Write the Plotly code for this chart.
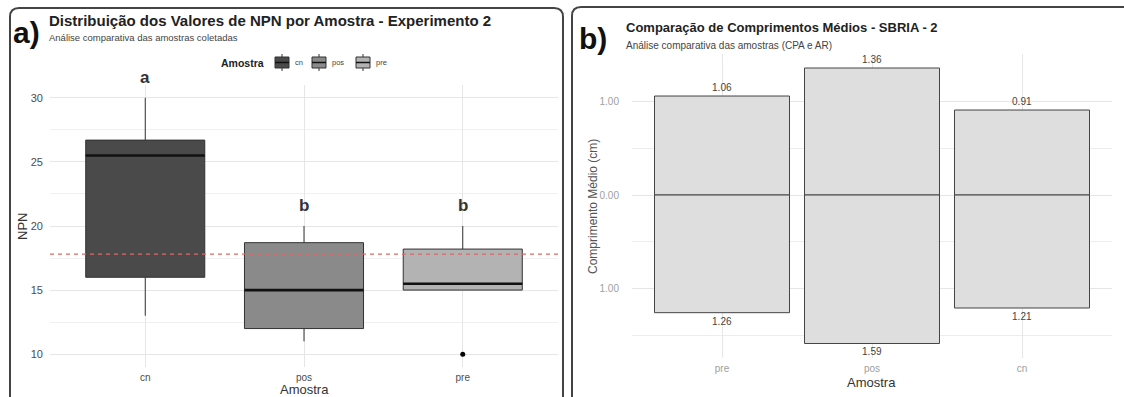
import plotly.graph_objects as go

W, H = 1124, 397

# ---------------- data ----------------
# Panel a: NPN boxplots by sample
amostras_a = ["cn", "pos", "pre"]
q1 = [16.0, 12.0, 15.0]
median = [25.5, 15.0, 15.5]
q3 = [26.7, 18.7, 18.2]
lower_whisker = [13.0, 11.0, 15.0]
upper_whisker = [30.0, 20.0, 20.0]
outlier_x = ["pre"]
outlier_y = [10.0]
letters = ["a", "b", "b"]
mean_npn = 17.8
box_fills = ["#4a4a4a", "#8a8a8a", "#b3b3b3"]

# Panel b: mean lengths (upper/lower values)
amostras_b = ["pre", "pos", "cn"]
valores_cima = [1.06, 1.36, 0.91]
valores_baixo = [1.26, 1.59, 1.21]
yticks_b = [-1.0, 0.0, 1.0]
yticklabels_b = ["1.00", "0.00", "1.00"]

FONT = "Liberation Sans, Arial, sans-serif"


def px(x):
    return x / W


def py(y):
    return 1 - y / H


fig = go.Figure()

# axis geometry (pixels)
XA_DOM = [px(50), px(558)]
YA_DOM = [py(367), py(85)]
XA_RANGE = [0.4, 3.6]
YA_RANGE = [9, 31]

# ---------------- panel a ----------------
pos_a = {c: i + 1 for i, c in enumerate(amostras_a)}
BW = 0.75
for i, c in enumerate(amostras_a):
    xp = pos_a[c]
    fig.add_trace(go.Box(
        x=[xp], q1=[q1[i]], median=[median[i]], q3=[q3[i]],
        lowerfence=[lower_whisker[i]], upperfence=[upper_whisker[i]],
        width=BW, fillcolor=box_fills[i], line=dict(color="#333333", width=1),
        whiskerwidth=0, boxpoints=False, showlegend=False, hoverinfo="skip",
        xaxis="x", yaxis="y"))
    fig.add_trace(go.Scatter(
        x=[xp - BW / 2, xp + BW / 2], y=[median[i], median[i]], mode="lines",
        line=dict(color="#111111", width=2.6), showlegend=False,
        hoverinfo="skip", xaxis="x", yaxis="y"))

fig.add_trace(go.Scatter(
    x=[pos_a[c] for c in outlier_x], y=outlier_y, mode="markers",
    marker=dict(color="black", size=5), showlegend=False, xaxis="x", yaxis="y"))

fig.add_shape(type="line", xref="x domain", yref="y", x0=0, x1=1,
              y0=mean_npn, y1=mean_npn,
              line=dict(color="#e06666", width=1.2, dash="4px,4px"))


def data_to_paper(v, rng, dom):
    return dom[0] + (v - rng[0]) / (rng[1] - rng[0]) * (dom[1] - dom[0])


# significance letters (above upper whiskers, may sit above the panel)
for i, c in enumerate(amostras_a):
    fig.add_annotation(
        x=data_to_paper(pos_a[c], XA_RANGE, XA_DOM),
        y=data_to_paper(upper_whisker[i] + 1.6, YA_RANGE, YA_DOM),
        xref="paper", yref="paper", text=f"<b>{letters[i]}</b>", showarrow=False,
        xanchor="center", yanchor="middle",
        font=dict(family=FONT, size=17, color="#333333"))

# ---------------- panel b ----------------
pos_b = {c: i + 1 for i, c in enumerate(amostras_b)}
xb = [pos_b[c] for c in amostras_b]
bar_style = dict(width=0.9, marker=dict(color="#dedede", line=dict(color="#444444", width=1)),
                 textposition="outside", cliponaxis=False, constraintext="none",
                 textfont=dict(family=FONT, size=10, color="#444444"),
                 showlegend=False, hoverinfo="skip", xaxis="x2", yaxis="y2")
fig.add_trace(go.Bar(x=xb, y=valores_cima, text=[f"{v:.2f}" for v in valores_cima], **bar_style))
fig.add_trace(go.Bar(x=xb, y=[-v for v in valores_baixo],
                     text=[f"{v:.2f}" for v in valores_baixo], **bar_style))

# ---------------- layout ----------------
grid = "#e6e6e6"
fig.update_layout(
    width=W, height=H, margin=dict(l=0, r=0, t=0, b=0),
    paper_bgcolor="white", plot_bgcolor="white", barmode="relative",
    font=dict(family=FONT), showlegend=False,
    xaxis=dict(domain=XA_DOM, range=XA_RANGE, tickvals=[1, 2, 3],
               ticktext=amostras_a, showgrid=True, gridcolor=grid, zeroline=False,
               tickfont=dict(size=10, color="#4d4d4d"), ticks="", ticklabelstandoff=3,
               anchor="y"),
    yaxis=dict(domain=YA_DOM, range=YA_RANGE, tickvals=[10, 15, 20, 25, 30],
               showgrid=True, gridcolor=grid, zeroline=False,
               minor=dict(tickvals=[12.5, 17.5, 22.5, 27.5], showgrid=True, gridcolor="#f0f0f0"),
               tickfont=dict(size=11, color="#4d4d4d"), ticks="", ticklabelstandoff=6,
               anchor="x"),
    xaxis2=dict(domain=[px(632), px(1112)], range=[0.4, 3.6], tickvals=[1, 2, 3],
                ticktext=amostras_b, showgrid=True, gridcolor=grid, zeroline=False,
                tickfont=dict(size=10, color="#a0a0a0"), ticks="", ticklabelstandoff=3,
                anchor="y2"),
    yaxis2=dict(domain=[py(357.5), py(54)], range=[-1.74, 1.51], tickvals=yticks_b,
                ticktext=yticklabels_b, showgrid=True, gridcolor=grid, zeroline=False,
                minor=dict(tickvals=[-1.5, -0.5, 0.5, 1.5], showgrid=True, gridcolor="#ededed"),
                tickfont=dict(size=10, color="#a0a0a0"), ticks="", ticklabelstandoff=12,
                anchor="x2"),
)


def ann(x, y, text, size, color="#222222", xanchor="left", yanchor="middle", angle=0):
    fig.add_annotation(x=px(x), y=py(y), xref="paper", yref="paper", text=text,
                       showarrow=False, xanchor=xanchor, yanchor=yanchor, textangle=angle,
                       font=dict(family=FONT, size=size, color=color))


# titles panel a
ann(11, 33, "<b>a)</b>", 30, "#111111")
ann(47, 20, "<b>Distribuição dos Valores de NPN por Amostra - Experimento 2</b>", 15, "#222222")
ann(47, 37, "Análise comparativa das amostras coletadas", 9.5, "#444444")
ann(22, 227, "NPN", 13, "#333333", xanchor="center", angle=-90)
ann(304, 389, "Amostra", 13, "#333333", xanchor="center")

# manual legend panel a
ann(242, 63, "<b>Amostra</b>", 10.5, "#222222", xanchor="center")
key_x = [282, 319, 363]
for i, c in enumerate(amostras_a):
    kx = key_x[i]
    fig.add_shape(type="line", xref="paper", yref="paper", x0=px(kx), x1=px(kx),
                  y0=py(54), y1=py(71), line=dict(color="#333333", width=1))
    fig.add_shape(type="rect", xref="paper", yref="paper", x0=px(kx - 7), x1=px(kx + 7),
                  y0=py(57), y1=py(68), fillcolor=box_fills[i],
                  line=dict(color="#333333", width=1))
    fig.add_shape(type="line", xref="paper", yref="paper", x0=px(kx - 7), x1=px(kx + 7),
                  y0=py(62.5), y1=py(62.5), line=dict(color="#111111", width=1.5))
    ann(kx + 11, 63, c, 7.5, "#444444")

# titles panel b
ann(577, 38, "<b>b)</b>", 30, "#111111")
ann(624, 27, "<b>Comparação de Comprimentos Médios - SBRIA - 2</b>", 13, "#222222")
ann(624, 45, "Análise comparativa das amostras (CPA e AR)", 10, "#444444")
ann(593, 207, "Comprimento Médio (cm)", 12, "#555555", xanchor="center", angle=-90)
ann(872, 382, "Amostra", 13, "#333333", xanchor="center")


# rounded panel borders
def rounded(x0, y0, x1, y1, r):
    rx, ry = r / W, r / H
    X0, X1, Y0, Y1 = px(x0), px(x1), py(y0), py(y1)
    return (f"M {X0 + rx},{Y0} L {X1 - rx},{Y0} Q {X1},{Y0} {X1},{Y0 - ry} "
            f"L {X1},{Y1 + ry} Q {X1},{Y1} {X1 - rx},{Y1} L {X0 + rx},{Y1} "
            f"Q {X0},{Y1} {X0},{Y1 + ry} L {X0},{Y0 - ry} Q {X0},{Y0} {X0 + rx},{Y0} Z")


for (a, b, c, d) in [(10, 8, 563, 420), (572, 7, 1140, 420)]:
    fig.add_shape(type="path", xref="paper", yref="paper", path=rounded(a, b, c, d, 9),
                  line=dict(color="#444444", width=2), fillcolor="rgba(0,0,0,0)", layer="above")

fig.write_html("out.html", config={"displayModeBar": False},
               post_script="document.body.style.margin='0';document.body.style.overflow='hidden';")
